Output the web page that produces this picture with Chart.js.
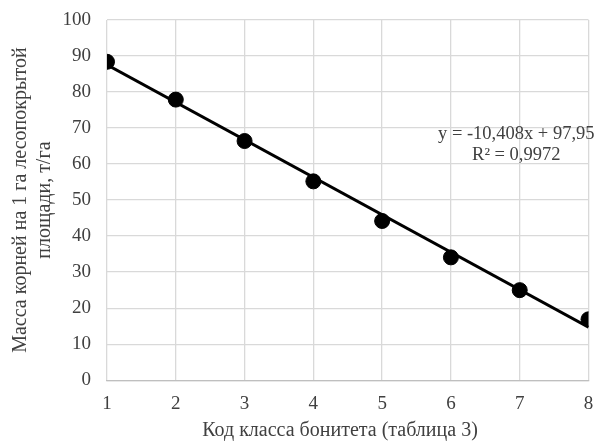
<!DOCTYPE html>
<html><head><meta charset="utf-8">
<script src="https://cdn.jsdelivr.net/npm/chart.js@4/dist/chart.umd.min.js"></script>
<style>html,body{margin:0;padding:0;background:#fff}#wrap{width:597px;height:442px}</style>
</head><body><div id="wrap"><canvas id="c" width="597" height="442"></canvas></div>
<script>
const classCodes = [1, 2, 3, 4, 5, 6, 7, 8];
const rootMass = [88.4, 77.9, 66.4, 55.2, 44.2, 34.1, 25.0, 16.9];
const trendSlope = -10.408;
const trendIntercept = 97.95;
const trendLabel = ["y = -10,408x + 97,95", "R² = 0,9972"];
const yTitleLines = ["Масса корней на 1 га лесопокрытой", "площади, т/га"];
const xTitle = "Код класса бонитета (таблица 3)";

const FONT = "'Liberation Serif', 'Times New Roman', serif";
const points = classCodes.map((x, i) => ({x, y: rootMass[i]}));
const xMin = classCodes[0], xMax = classCodes[classCodes.length - 1];
const trend = [xMin, xMax].map(x => ({x, y: trendSlope * x + trendIntercept}));

const textPlugin = {
  id: 'texts',
  afterDraw(chart) {
    const {ctx, chartArea: a, scales} = chart;
    ctx.save();
    ctx.fillStyle = '#404040';
    ctx.textAlign = 'center';
    ctx.textBaseline = 'middle';
    ctx.font = '18.5px ' + FONT;
    const tx = scales.x.getPixelForValue(6.95);
    ctx.fillText(trendLabel[0], tx, scales.y.getPixelForValue(68.2));
    ctx.fillText(trendLabel[1], tx, scales.y.getPixelForValue(62.6));
    ctx.font = '20px ' + FONT;
    ctx.fillText(xTitle, 340, 431);
    ctx.translate(0, (a.top + a.bottom) / 2);
    ctx.rotate(-Math.PI / 2);
    ctx.fillText(yTitleLines[0], 0, 21);
    ctx.fillText(yTitleLines[1], 0, 45);
    ctx.restore();
  }
};

new Chart(document.getElementById('c'), {
  type: 'scatter',
  data: {
    datasets: [
      {data: trend, showLine: true, borderColor: '#000', borderWidth: 3, pointRadius: 0, order: 2},
      {data: points, backgroundColor: '#000', borderColor: '#000', pointRadius: 7.5, pointHoverRadius: 7.5, order: 1}
    ]
  },
  options: {
    responsive: false,
    animation: false,
    layout: {padding: {left: 0, right: 8, top: 20, bottom: 15}},
    plugins: {legend: {display: false}, tooltip: {enabled: false}},
    scales: {
      x: {
        type: 'linear', min: 1, max: 8,
        grid: {color: '#d9d9d9', lineWidth: 1.3, drawTicks: false},
        border: {color: '#bfbfbf', width: 1.3},
        ticks: {stepSize: 1, padding: 12, color: '#404040', font: {family: FONT, size: 19}},
        afterFit(s) { s.paddingRight = 0; s.paddingLeft = 0; }
      },
      y: {
        min: 0, max: 100,
        grid: {color: '#d9d9d9', lineWidth: 1.3, drawTicks: false},
        border: {display: false},
        ticks: {stepSize: 10, padding: 16, color: '#404040', font: {family: FONT, size: 19}},
        afterFit(s) { s.width = 107; s.paddingTop = 0; s.paddingBottom = 0; }
      }
    }
  },
  plugins: [textPlugin]
});
</script></body></html>
